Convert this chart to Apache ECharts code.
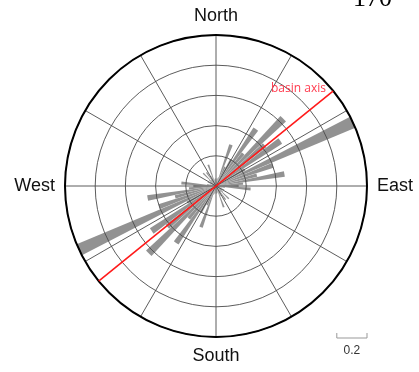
<!DOCTYPE html>
<html>
<head>
<meta charset="utf-8">
<script src="https://cdn.jsdelivr.net/npm/echarts@6/dist/echarts.min.js"></script>
<style>html,body{margin:0;padding:0;background:#fff;}#c{width:419px;height:372px;}</style>
</head>
<body>
<div id="c"></div>
<script>
// Bin centres (degrees azimuth, 5-degree bins)
const binCenters = [0,5,10,15,20,25,30,35,40,45,50,55,60,65,70,75,80,85,90,95,100,105,110,115,120,125,130,135,140,145,150,155,160,165,170,175,
  180,185,190,195,200,205,210,215,220,225,230,235,240,245,250,255,260,265,270,275,280,285,290,295,300,305,310,315,320,325,330,335,340,345,350,355];
// Relative frequency per bin (bidirectional rose)
const binValues = [0.05,0.03,0.05,0.06,0.29,0.14,0.20,0.46,0.28,0.63,0.42,0.52,0.22,1.00,0.40,0.28,0.46,0.18,0.15,0.23,0.06,0.04,0.03,0.06,0.05,0.04,0.06,0.12,0.05,0.11,0.05,0.07,0.15,0.05,0.04,0.05,
  0.05,0.03,0.05,0.06,0.29,0.14,0.20,0.46,0.28,0.63,0.42,0.52,0.22,1.00,0.40,0.28,0.46,0.18,0.15,0.23,0.06,0.04,0.03,0.06,0.05,0.04,0.06,0.12,0.05,0.11,0.05,0.07,0.15,0.05,0.04,0.05];
// Direction labels
const dirValues = [0, 90, 180, 270];
const dirLabels = ['North', 'East', 'South', 'West'];
// Basin axis azimuth
const basinAxis = [[1, 231], [1, 51]];
const basinLabel = 'basin axis';
const scaleValue = 0.2;
const panelTag = '170';

const chart = echarts.init(document.getElementById('c'));
const CENTER = [216, 186], R = 151;
chart.setOption({
  animation: false,
  backgroundColor: '#fff',
  polar: [{center: CENTER, radius: R}, {center: CENTER, radius: R}],
  angleAxis: [{
    polarIndex: 0, type: 'value', min: 0, max: 360, interval: 30,
    startAngle: 90, clockwise: true, z: 10,
    axisLine: {show: true, lineStyle: {color: '#000', width: 2}},
    axisTick: {show: false},
    axisLabel: {
      margin: 10, fontSize: 18, color: '#111', fontFamily: 'Liberation Sans',
      formatter: function (v) { const i = dirValues.indexOf(v); return i >= 0 && v !== 360 ? dirLabels[i] : ''; }
    },
    splitLine: {show: true, lineStyle: {color: '#4a4a4a', width: 0.9}}
  }, {
    polarIndex: 1, type: 'category', data: binCenters.map(String),
    startAngle: 92.5, clockwise: true, boundaryGap: true, show: false
  }],
  radiusAxis: [{
    polarIndex: 0, type: 'value', min: 0, max: 1, interval: scaleValue, z: 10,
    axisLine: {show: false}, axisTick: {show: false}, axisLabel: {show: false},
    splitLine: {show: true, lineStyle: {color: '#4a4a4a', width: 0.9}}
  }, {
    polarIndex: 1, type: 'value', min: 0, max: 1, show: false
  }],
  series: [{
    type: 'bar', coordinateSystem: 'polar', polarIndex: 1,
    data: binValues, barCategoryGap: '6%',
    itemStyle: {color: '#929292'}, z: 2
  }, {
    type: 'line', coordinateSystem: 'polar', polarIndex: 0,
    data: basinAxis, symbol: 'none', z: 20,
    lineStyle: {color: '#ff1a1a', width: 1.6}
  }, {
    type: 'custom', coordinateSystem: 'polar', polarIndex: 0, z: 20,
    data: [[0, 0]],
    renderItem: function (params, api) {
      const c = api.coord([0, 0]);
      const s = api.coord([scaleValue, 90]);
      const e = api.coord([1, 90]);
      const b = api.coord([1, 180]);
      const len = s[0] - c[0];
      const x1 = e[0], x0 = x1 - len, y = b[1] + 1;
      return {type: 'group', children: [
        {type: 'polyline', shape: {points: [[x0, y - 5], [x0, y], [x1, y], [x1, y - 5]]},
         style: {stroke: '#999', lineWidth: 1, fill: null}},
        {type: 'text', x: (x0 + x1) / 2, y: y + 13,
         style: {text: String(scaleValue), align: 'center', verticalAlign: 'middle', fontSize: 12, fill: '#333', fontFamily: 'Liberation Sans'}}
      ]};
    }
  }],
  graphic: [
    {type: 'text', left: 271, top: 83, z: 30,
     style: {text: basinLabel, fontSize: 12, fill: '#ff3b4e', fontFamily: 'Open Sans'}},
    {type: 'text', x: 353, y: 12, z: 30,
     style: {text: panelTag, fontSize: 26, fill: '#000', fontFamily: 'Liberation Serif', verticalAlign: 'bottom'}}
  ]
});
</script>
</body>
</html>
